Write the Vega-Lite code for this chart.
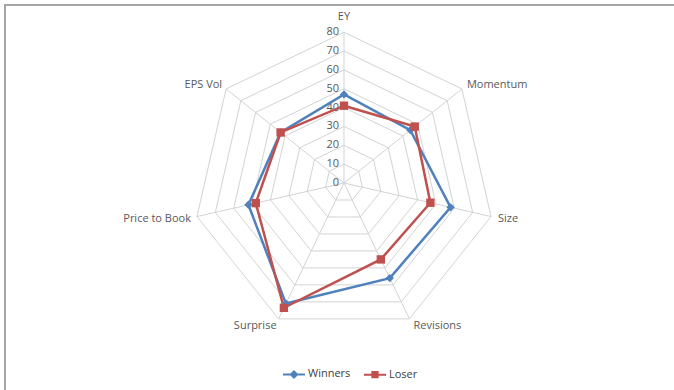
{
  "$schema": "https://vega.github.io/schema/vega-lite/v6.json",
  "width": 672,
  "height": 388,
  "padding": {"left": 5, "top": 5, "right": 0, "bottom": 0},
  "autosize": "none",
  "background": "white",
  "config": {
    "view": {"stroke": "#a6a6a6", "strokeWidth": 2},
    "text": {"font": "Open Sans", "fontSize": 11, "color": "#595959"}
  },
  "datasets": {
    "scores": [
      {"series": "Winners", "metric": "EY", "k": 0, "value": 47},
      {"series": "Winners", "metric": "Momentum", "k": 1, "value": 45},
      {"series": "Winners", "metric": "Size", "k": 2, "value": 58},
      {"series": "Winners", "metric": "Revisions", "k": 3, "value": 56},
      {"series": "Winners", "metric": "Surprise", "k": 4, "value": 71},
      {"series": "Winners", "metric": "Price to Book", "k": 5, "value": 52},
      {"series": "Winners", "metric": "EPS Vol", "k": 6, "value": 43},
      {"series": "Loser", "metric": "EY", "k": 0, "value": 41},
      {"series": "Loser", "metric": "Momentum", "k": 1, "value": 48},
      {"series": "Loser", "metric": "Size", "k": 2, "value": 47},
      {"series": "Loser", "metric": "Revisions", "k": 3, "value": 45},
      {"series": "Loser", "metric": "Surprise", "k": 4, "value": 73.5},
      {"series": "Loser", "metric": "Price to Book", "k": 5, "value": 48},
      {"series": "Loser", "metric": "EPS Vol", "k": 6, "value": 43}
    ],
    "axes": [
      {"metric": "EY", "k": 0},
      {"metric": "Momentum", "k": 1},
      {"metric": "Size", "k": 2},
      {"metric": "Revisions", "k": 3},
      {"metric": "Surprise", "k": 4},
      {"metric": "Price to Book", "k": 5},
      {"metric": "EPS Vol", "k": 6}
    ],
    "rings": [
      {"level": 10, "k": [0, 1, 2, 3, 4, 5, 6]},
      {"level": 20, "k": [0, 1, 2, 3, 4, 5, 6]},
      {"level": 30, "k": [0, 1, 2, 3, 4, 5, 6]},
      {"level": 40, "k": [0, 1, 2, 3, 4, 5, 6]},
      {"level": 50, "k": [0, 1, 2, 3, 4, 5, 6]},
      {"level": 60, "k": [0, 1, 2, 3, 4, 5, 6]},
      {"level": 70, "k": [0, 1, 2, 3, 4, 5, 6]},
      {"level": 80, "k": [0, 1, 2, 3, 4, 5, 6]}
    ],
    "ticks": [
      {"level": 0}, {"level": 10}, {"level": 20}, {"level": 30}, {"level": 40},
      {"level": 50}, {"level": 60}, {"level": 70}, {"level": 80}
    ]
  },
  "encoding": {
    "x": {"field": "px", "type": "quantitative", "scale": {"domain": [-179.84, 176.66], "nice": false, "zero": false}, "axis": null},
    "y": {"field": "py", "type": "quantitative", "scale": {"domain": [-111.41, 94.43], "nice": false, "zero": false}, "axis": null}
  },
  "layer": [
    {
      "data": {"name": "rings"},
      "transform": [
        {"flatten": ["k"]},
        {"calculate": "datum.k * 2 * PI / 7", "as": "a"},
        {"calculate": "datum.level * sin(datum.a)", "as": "px"},
        {"calculate": "datum.level * cos(datum.a)", "as": "py"}
      ],
      "mark": {"type": "line", "interpolate": "linear-closed", "stroke": "#d3d3d3", "strokeWidth": 1},
      "encoding": {"detail": {"field": "level"}, "order": {"field": "k", "type": "quantitative"}}
    },
    {
      "data": {"name": "axes"},
      "transform": [
        {"calculate": "datum.k * 2 * PI / 7", "as": "a"},
        {"calculate": "0", "as": "px"},
        {"calculate": "0", "as": "py"},
        {"calculate": "80 * sin(datum.a)", "as": "ex"},
        {"calculate": "80 * cos(datum.a)", "as": "ey"}
      ],
      "mark": {"type": "rule", "stroke": "#d3d3d3", "strokeWidth": 1},
      "encoding": {"x2": {"field": "ex"}, "y2": {"field": "ey"}}
    },
    {
      "data": {"name": "ticks"},
      "transform": [
        {"calculate": "0", "as": "px"},
        {"calculate": "datum.level", "as": "py"}
      ],
      "mark": {"type": "text", "align": "right", "baseline": "middle", "dx": -5},
      "encoding": {"text": {"field": "level"}}
    },
    {
      "data": {"name": "scores"},
      "transform": [
        {"calculate": "datum.k * 2 * PI / 7", "as": "a"},
        {"calculate": "datum.value * sin(datum.a)", "as": "px"},
        {"calculate": "datum.value * cos(datum.a)", "as": "py"}
      ],
      "mark": {"type": "line", "interpolate": "linear-closed", "strokeWidth": 2.5},
      "encoding": {
        "color": {"field": "series", "type": "nominal", "scale": {"domain": ["Winners", "Loser"], "range": ["#4f81bd", "#c0504d"]}, "legend": null},
        "detail": {"field": "series"},
        "order": {"field": "k", "type": "quantitative"}
      }
    },
    {
      "data": {"name": "scores"},
      "transform": [
        {"calculate": "datum.k * 2 * PI / 7", "as": "a"},
        {"calculate": "datum.value * sin(datum.a)", "as": "px"},
        {"calculate": "datum.value * cos(datum.a)", "as": "py"}
      ],
      "mark": {"type": "point", "filled": true, "opacity": 1, "size": 70},
      "encoding": {
        "color": {"field": "series", "type": "nominal", "scale": {"domain": ["Winners", "Loser"], "range": ["#4f81bd", "#c0504d"]}, "legend": null},
        "shape": {"field": "series", "type": "nominal", "scale": {"domain": ["Winners", "Loser"], "range": ["diamond", "square"]}, "legend": null}
      }
    },
    {
      "data": {"name": "scores"},
      "transform": [
        {"calculate": "datum.k * 2 * PI / 7", "as": "a"},
        {"calculate": "datum.value * sin(datum.a)", "as": "px"},
        {"calculate": "datum.value * cos(datum.a)", "as": "py"}
      ],
      "mark": {"type": "point", "filled": true, "opacity": 0, "size": 484},
      "encoding": {
        "color": {"field": "series", "type": "nominal", "scale": {"domain": ["Winners", "Loser"], "range": ["#4f81bd", "#c0504d"]},
          "legend": {"title": null, "orient": "none", "legendX": 277, "legendY": 357, "direction": "horizontal", "symbolSize": 484, "symbolStrokeWidth": 2, "symbolOpacity": 1, "labelFont": "Open Sans", "labelFontSize": 11, "labelColor": "#404040", "columnPadding": 9, "labelOffset": 2, "padding": 0}},
        "stroke": {"field": "series", "type": "nominal", "scale": {"domain": ["Winners", "Loser"], "range": ["#4f81bd", "#c0504d"]},
          "legend": {"title": null, "orient": "none", "legendX": 277, "legendY": 357, "direction": "horizontal", "symbolSize": 484, "symbolStrokeWidth": 2, "symbolOpacity": 1, "labelFont": "Open Sans", "labelFontSize": 11, "labelColor": "#404040", "columnPadding": 9, "labelOffset": 2, "padding": 0}},
        "shape": {"field": "series", "type": "nominal", "scale": {"domain": ["Winners", "Loser"], "range": ["M-1,0H1M-0.28,0L0,-0.28L0.28,0L0,0.28Z", "M-1,0H1M-0.24,-0.24H0.24V0.24H-0.24Z"]},
          "legend": {"title": null, "orient": "none", "legendX": 277, "legendY": 357, "direction": "horizontal", "symbolSize": 484, "symbolStrokeWidth": 2, "symbolOpacity": 1, "labelFont": "Open Sans", "labelFontSize": 11, "labelColor": "#404040", "columnPadding": 9, "labelOffset": 2, "padding": 0}}
      }
    },
    {
      "data": {"name": "axes"},
      "transform": [
        {"filter": "datum.k == 0"},
        {"calculate": "0", "as": "px"},
        {"calculate": "80", "as": "py"}
      ],
      "mark": {"type": "text", "align": "center", "baseline": "middle", "dy": -15},
      "encoding": {"text": {"field": "metric"}}
    },
    {
      "data": {"name": "axes"},
      "transform": [
        {"filter": "datum.k == 1"},
        {"calculate": "80 * sin(datum.k * 2 * PI / 7)", "as": "px"},
        {"calculate": "80 * cos(datum.k * 2 * PI / 7)", "as": "py"}
      ],
      "mark": {"type": "text", "align": "left", "baseline": "middle", "dx": 5, "dy": -4},
      "encoding": {"text": {"field": "metric"}}
    },
    {
      "data": {"name": "axes"},
      "transform": [
        {"filter": "datum.k == 2"},
        {"calculate": "80 * sin(datum.k * 2 * PI / 7)", "as": "px"},
        {"calculate": "80 * cos(datum.k * 2 * PI / 7)", "as": "py"}
      ],
      "mark": {"type": "text", "align": "left", "baseline": "middle", "dx": 7, "dy": 2},
      "encoding": {"text": {"field": "metric"}}
    },
    {
      "data": {"name": "axes"},
      "transform": [
        {"filter": "datum.k == 3"},
        {"calculate": "80 * sin(datum.k * 2 * PI / 7)", "as": "px"},
        {"calculate": "80 * cos(datum.k * 2 * PI / 7)", "as": "py"}
      ],
      "mark": {"type": "text", "align": "left", "baseline": "middle", "dx": 4, "dy": 7},
      "encoding": {"text": {"field": "metric"}}
    },
    {
      "data": {"name": "axes"},
      "transform": [
        {"filter": "datum.k == 4"},
        {"calculate": "80 * sin(datum.k * 2 * PI / 7)", "as": "px"},
        {"calculate": "80 * cos(datum.k * 2 * PI / 7)", "as": "py"}
      ],
      "mark": {"type": "text", "align": "right", "baseline": "middle", "dx": -2, "dy": 7},
      "encoding": {"text": {"field": "metric"}}
    },
    {
      "data": {"name": "axes"},
      "transform": [
        {"filter": "datum.k == 5"},
        {"calculate": "80 * sin(datum.k * 2 * PI / 7)", "as": "px"},
        {"calculate": "80 * cos(datum.k * 2 * PI / 7)", "as": "py"}
      ],
      "mark": {"type": "text", "align": "right", "baseline": "middle", "dx": -6, "dy": 2},
      "encoding": {"text": {"field": "metric"}}
    },
    {
      "data": {"name": "axes"},
      "transform": [
        {"filter": "datum.k == 6"},
        {"calculate": "80 * sin(datum.k * 2 * PI / 7)", "as": "px"},
        {"calculate": "80 * cos(datum.k * 2 * PI / 7)", "as": "py"}
      ],
      "mark": {"type": "text", "align": "right", "baseline": "middle", "dx": -4, "dy": -4},
      "encoding": {"text": {"field": "metric"}}
    }
  ],
  "resolve": {"scale": {"color": "independent", "shape": "independent", "stroke": "independent"}}
}
